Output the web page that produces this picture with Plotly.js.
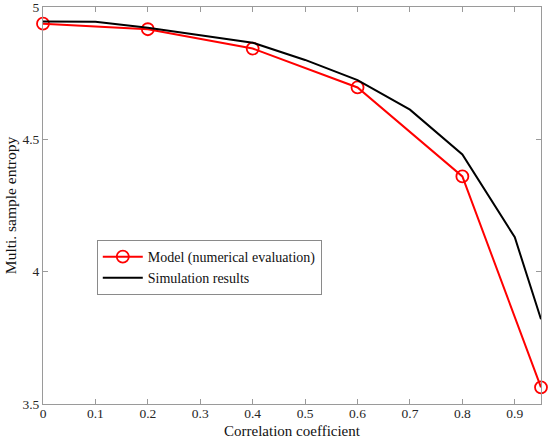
<!DOCTYPE html>
<html>
<head>
<meta charset="utf-8">
<script src="https://cdn.plot.ly/plotly-3.0.1.min.js"></script>
<style>html,body{margin:0;padding:0;background:#fff;}#chart{width:550px;height:439px;}</style>
</head>
<body>
<div id="chart"></div>
<script>
const modelX = [0, 0.2, 0.4, 0.6, 0.8, 0.95];
const modelY = [4.937, 4.916, 4.843, 4.696, 4.360, 3.563];
const simX = [0, 0.1, 0.2, 0.3, 0.4, 0.5, 0.6, 0.7, 0.8, 0.9, 0.95];
const simY = [4.945, 4.944, 4.922, 4.893, 4.865, 4.800, 4.724, 4.612, 4.443, 4.130, 3.820];
const xTicks = [0, 0.1, 0.2, 0.3, 0.4, 0.5, 0.6, 0.7, 0.8, 0.9];
const xTickText = ["0", "0.1", "0.2", "0.3", "0.4", "0.5", "0.6", "0.7", "0.8", "0.9"];
const yTicks = [3.5, 4, 4.5, 5];
const yTickText = ["3.5", "4", "4.5", "5"];

const fam = "Liberation Serif";
const tickFont = {family: fam, size: 13.5, color: "#262626"};

const traces = [
  {x: modelX, y: modelY, type: "scatter", mode: "lines+markers", name: "Model (numerical evaluation)",
   line: {color: "#ff0000", width: 2},
   marker: {symbol: "circle-open", size: 12, color: "#ff0000", line: {width: 1.8, color: "#ff0000"}},
   cliponaxis: false},
  {x: simX, y: simY, type: "scatter", mode: "lines", name: "Simulation results",
   line: {color: "#000000", width: 2}}
];

const axisCommon = {
  showgrid: false, zeroline: false, showline: true, linecolor: "#9a9a9a", linewidth: 1,
  mirror: "ticks", ticks: "inside", ticklen: 5, tickcolor: "#9a9a9a", tickwidth: 1,
  tickfont: tickFont, ticklabeloverflow: "allow"
};

const layout = {
  width: 550, height: 439,
  margin: {l: 43, r: 9, t: 7, b: 35},
  paper_bgcolor: "#fff", plot_bgcolor: "#fff",
  font: {family: fam, size: 14, color: "#222"},
  xaxis: Object.assign({}, axisCommon, {
    range: [0, 0.95], tickvals: xTicks, ticktext: xTickText, ticklabelstandoff: -3,
    title: {text: "Correlation coefficient", font: {family: fam, size: 15, color: "#111"}}
  }),
  yaxis: Object.assign({}, axisCommon, {
    range: [3.5, 5], tickvals: yTicks, ticktext: yTickText,
    title: {text: "Multi. sample entropy", font: {family: fam, size: 15.5, color: "#111"}, standoff: 1}
  }),
  showlegend: true,
  legend: {
    x: 0.108, y: 0.413, xanchor: "left", yanchor: "top",
    bgcolor: "#fff", bordercolor: "#8a8a8a", borderwidth: 1,
    font: {family: fam, size: 14, color: "#111"},
    tracegroupgap: 0, itemwidth: 40
  }
};

Plotly.newPlot("chart", traces, layout, {displayModeBar: false, staticPlot: true});
</script>
</body>
</html>
